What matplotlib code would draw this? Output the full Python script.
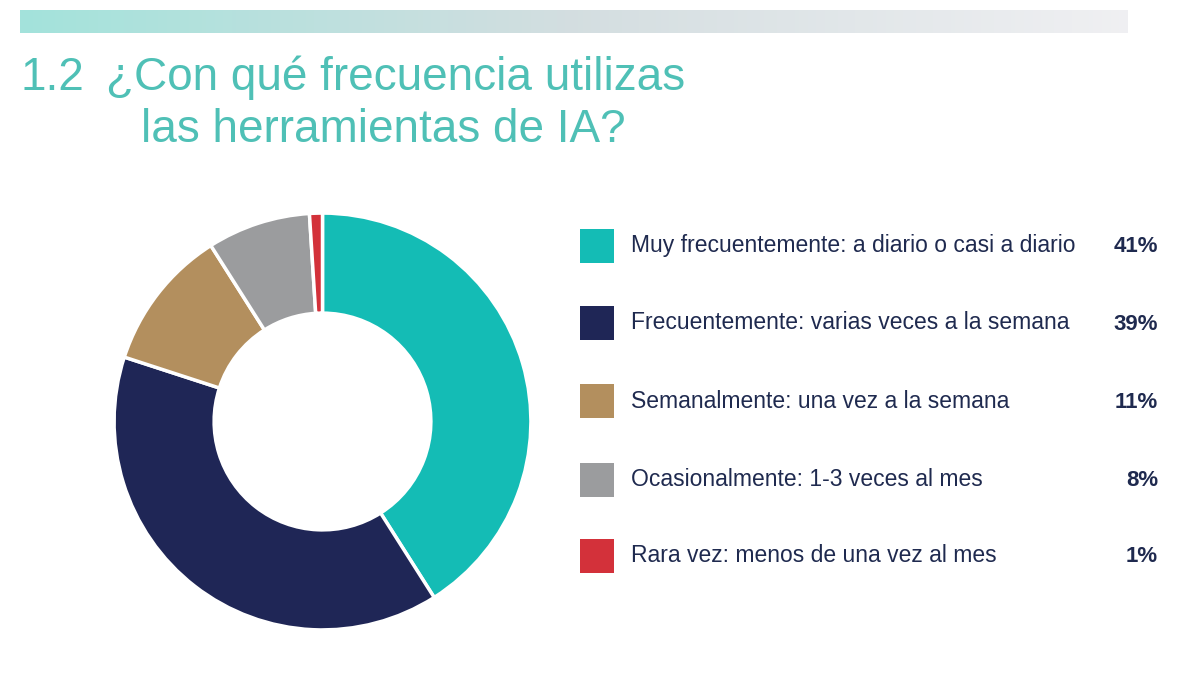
import matplotlib.pyplot as plt
import numpy as np
from matplotlib.patches import Rectangle

labels = ['Muy frecuentemente: a diario o casi a diario',
          'Frecuentemente: varias veces a la semana',
          'Semanalmente: una vez a la semana',
          'Ocasionalmente: 1-3 veces al mes',
          'Rara vez: menos de una vez al mes']
values = [41, 39, 11, 8, 1]
pct_labels = ['41%', '39%', '11%', '8%', '1%']
colors = ['#14bcb5', '#1f2656', '#b38f5e', '#9b9c9e', '#d3313a']

W, H = 1200, 687
plt.rcParams['font.family'] = ['Liberation Sans', 'DejaVu Sans']
fig = plt.figure(figsize=(12, 6.87), dpi=100)

def fx(x):
    return x / W

def fy(y):
    return 1 - y / H

# gradient bar at top
ax_bar = fig.add_axes([fx(20), fy(33), fx(1108), 23 / H])
grad = np.linspace(0, 1, 256)
c0 = np.array([0.64, 0.89, 0.86])
c_mid = np.array([0.83, 0.87, 0.88])
c1 = np.array([0.94, 0.94, 0.95])
img = np.where(grad[:, None] < 0.5,
               c0 + (grad[:, None] / 0.5) * (c_mid - c0),
               c_mid + ((grad[:, None] - 0.5) / 0.5) * (c1 - c_mid))
ax_bar.imshow(img[None, :, :], aspect='auto')
ax_bar.axis('off')

# title
teal = '#4fc0b6'
fig.text(fx(20), fy(78), '1.2', fontsize=33, color=teal, va='center', ha='left')
fig.text(fx(106), fy(78), '¿Con qué frecuencia utilizas', fontsize=33, color=teal, va='center', ha='left')
fig.text(fx(141), fy(130), 'las herramientas de IA?', fontsize=33, color=teal, va='center', ha='left')

# donut
ax = fig.add_axes([fx(112), fy(632), fx(421), 421 / H])
ax.pie(values, colors=colors, startangle=90, counterclock=False,
       wedgeprops=dict(width=0.48, edgecolor='white', linewidth=2.5))
ax.set_xlim(-1.01, 1.01)
ax.set_ylim(-1.01, 1.01)
ax.set_aspect('equal')

# legend
navy = '#1f2a4f'
row_y = [246, 323, 401, 480, 556]
for i, lab in enumerate(labels):
    y = row_y[i]
    fig.patches.append(Rectangle((fx(580), fy(y + 17)), fx(34), 34 / H,
                                 transform=fig.transFigure, facecolor=colors[i],
                                 edgecolor='none'))
    fig.text(fx(631), fy(y), lab, fontsize=16.5, color=navy, va='center', ha='left')
    fig.text(fx(1158), fy(y + 1), pct_labels[i], fontsize=16, color=navy,
             va='center', ha='right', fontweight='bold')

fig.savefig('out.png', dpi=100)
